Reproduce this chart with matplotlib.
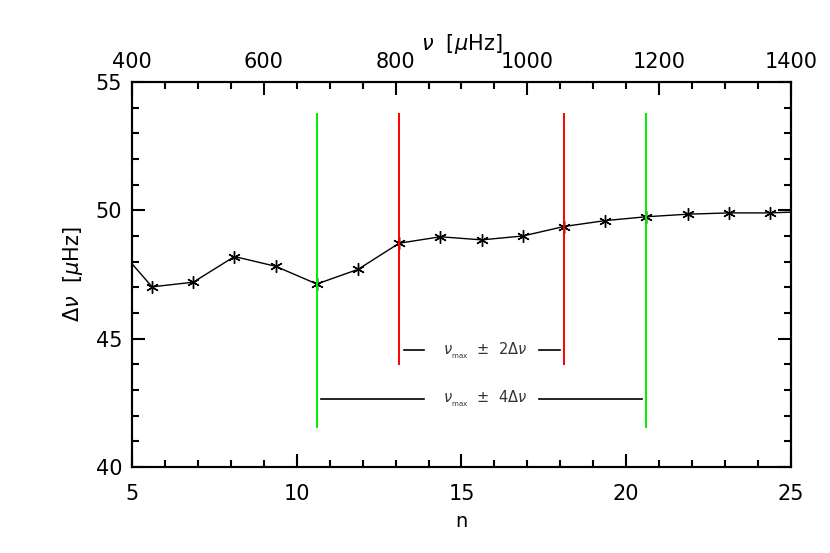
import numpy as np
import matplotlib.pyplot as plt
from matplotlib.ticker import MultipleLocator

# large separation vs radial order
n = [4.36, 5.61, 6.86, 8.11, 9.36, 10.61, 11.86, 13.11, 14.36, 15.61,
     16.86, 18.11, 19.36, 20.61, 21.86, 23.11, 24.36, 25.61]
dnu = [48.86, 47.02, 47.20, 48.20, 47.82, 47.13, 47.70, 48.72, 48.97, 48.85,
       49.00, 49.37, 49.60, 49.75, 49.85, 49.90, 49.90, 49.96]

green_n = [10.61, 20.61]
red_n = [13.11, 18.11]
line_top = 53.8
green_bot = 41.52
red_bot = 43.97

lab2 = r'$\nu_{_{\rm max}}$  $\pm$  2$\Delta\nu$'
lab4 = r'$\nu_{_{\rm max}}$  $\pm$  4$\Delta\nu$'
seg2 = [(13.26, 13.87), (17.36, 17.98)]
seg4 = [(10.74, 13.87), (17.36, 20.49)]
y2, y4 = 44.54, 42.65
xtext = 15.71

fig = plt.figure(figsize=(8.3, 5.53), dpi=100)
ax = fig.add_axes([0.159, 0.1555, 0.794, 0.6962])

ax.plot(n, dnu, color='black', lw=1.0, marker=(6, 2, 0), ms=9, mew=1.0)
ax.vlines(green_n, green_bot, line_top, color='#00ee00', lw=1.4)
ax.vlines(red_n, red_bot, line_top, color='#ff0000', lw=1.4)

for a, b in seg2:
    ax.plot([a, b], [y2, y2], color='black', lw=1.2)
for a, b in seg4:
    ax.plot([a, b], [y4, y4], color='black', lw=1.2)
ax.text(xtext, y2, lab2, ha='center', va='center', fontsize=10.5, color='#333333')
ax.text(xtext, y4, lab4, ha='center', va='center', fontsize=10.5, color='#333333')

ax.set_xlim(5, 25)
ax.set_ylim(40, 55)
ax.xaxis.set_major_locator(MultipleLocator(5))
ax.xaxis.set_minor_locator(MultipleLocator(1))
ax.yaxis.set_major_locator(MultipleLocator(5))
ax.yaxis.set_minor_locator(MultipleLocator(1))
ax.tick_params(which='both', direction='in', width=1.5, labelsize=15)
ax.tick_params(axis='x', which='both', top=False, pad=12)
ax.tick_params(axis='y', which='both', right=True, pad=7)
ax.tick_params(which='major', length=9.5)
ax.tick_params(which='minor', length=5)
for s in ax.spines.values():
    s.set_linewidth(1.5)

ax.set_xlabel('n', fontsize=14, labelpad=6)
ax.set_ylabel(r'$\Delta\nu$  [$\mu$Hz]', fontsize=15, labelpad=8)

top = ax.twiny()
top.set_xlim(400, 1400)
top.xaxis.set_major_locator(MultipleLocator(200))
top.xaxis.set_minor_locator(MultipleLocator(50))
top.tick_params(which='both', direction='in', width=1.5, labelsize=15, pad=7)
top.tick_params(which='major', length=9.5)
top.tick_params(which='minor', length=5)
top.set_xlabel(r'$\nu$  [$\mu$Hz]', fontsize=15, labelpad=2)
for s in top.spines.values():
    s.set_linewidth(1.5)

fig.savefig('out.png', dpi=100)
